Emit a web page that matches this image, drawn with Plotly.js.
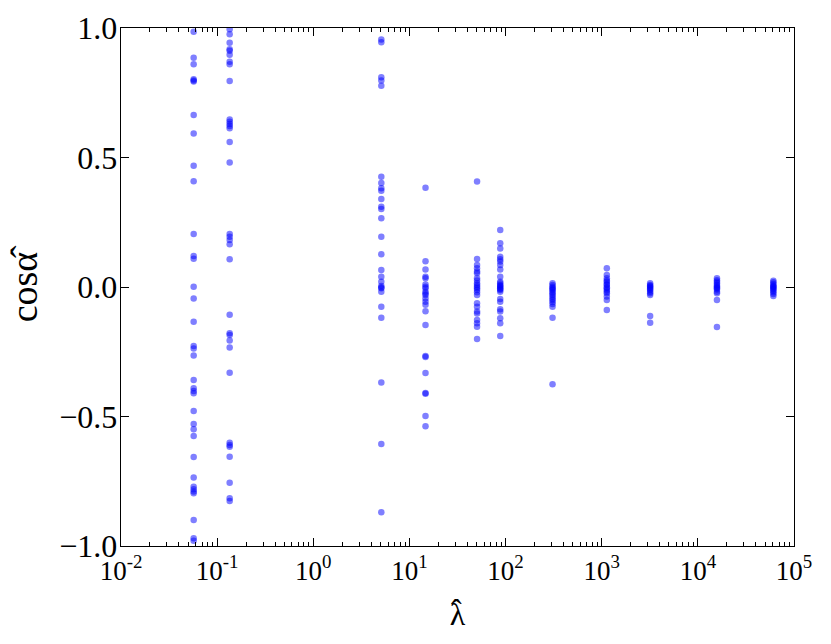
<!DOCTYPE html>
<html>
<head>
<meta charset="utf-8">
<script src="https://cdn.plot.ly/plotly-3.0.1.min.js"></script>
<style>html,body{margin:0;padding:0;background:#fff;}#plot{width:831px;height:644px;}</style>
</head>
<body>
<div id="plot"></div>
<script>
// lambda-hat value for each column of points
const lambdaHat = [0.057, 0.135, 5.1, 14.7, 50.5, 88, 308, 1130, 3190, 15800, 61000];

// cos(alpha-hat) values, one array per column
const c1 = [0.986, 0.885, 0.860, 0.802, 0.797, 0.793, 0.664, 0.593, 0.468, 0.408, 0.205, 0.120, 0.109, 0.001, -0.044, -0.134, -0.228, -0.237, -0.264, -0.359, -0.391, -0.402, -0.410, -0.479, -0.529, -0.549, -0.575, -0.656, -0.736, -0.771, -0.781, -0.790, -0.796, -0.900, -0.970, -0.980];
const c2 = [0.995, 0.976, 0.943, 0.918, 0.912, 0.897, 0.870, 0.860, 0.795, 0.647, 0.638, 0.629, 0.622, 0.613, 0.560, 0.481, 0.205, 0.194, 0.181, 0.165, 0.107, -0.107, -0.179, -0.185, -0.207, -0.234, -0.331, -0.601, -0.610, -0.617, -0.655, -0.756, -0.816, -0.826];
const c3 = [0.956, 0.945, 0.810, 0.797, 0.777, 0.426, 0.402, 0.381, 0.372, 0.340, 0.310, 0.301, 0.265, 0.194, 0.126, 0.066, 0.040, 0.020, 0.004, -0.002, -0.005, -0.018, -0.076, -0.119, -0.369, -0.606, -0.870];
const c4 = [0.383, 0.099, 0.068, 0.040, 0.034, 0.010, 0.001, -0.005, -0.018, -0.025, -0.031, -0.044, -0.057, -0.069, -0.094, -0.147, -0.266, -0.270, -0.332, -0.409, -0.412, -0.498, -0.538];
const c5 = [0.407, 0.108, 0.085, 0.072, 0.060, 0.053, 0.034, 0.025, 0.014, 0.008, 0.001, -0.005, -0.012, -0.020, -0.031, -0.063, -0.076, -0.095, -0.102, -0.127, -0.140, -0.153, -0.201];
const c6 = [0.220, 0.169, 0.149, 0.117, 0.107, 0.098, 0.085, 0.068, 0.040, 0.020, 0.014, 0.008, 0.004, 0.001, -0.005, -0.008, -0.012, -0.018, -0.046, -0.057, -0.086, -0.095, -0.121, -0.140, -0.189];
const c7 = [0.014, 0.008, 0.001, -0.004, -0.008, -0.012, -0.018, -0.024, -0.030, -0.037, -0.044, -0.050, -0.058, -0.066, -0.076, -0.119, -0.375];
const c8 = [0.072, 0.046, 0.034, 0.025, 0.020, 0.012, 0.008, -0.001, -0.005, -0.012, -0.018, -0.024, -0.037, -0.050, -0.089];
const c9 = [0.014, 0.008, 0.004, 0.001, -0.004, -0.008, -0.012, -0.018, -0.024, -0.031, -0.112, -0.138];
const c10 = [0.034, 0.026, 0.020, 0.014, 0.008, 0.003, -0.002, -0.005, -0.010, -0.018, -0.024, -0.050, -0.154];
const c11 = [0.024, 0.018, 0.012, 0.006, 0.002, -0.001, -0.005, -0.010, -0.014, -0.020, -0.027, -0.035];

const xTickVals = [0.01, 0.1, 1, 10, 100, 1000, 10000, 100000];
const xTickText = ['10<sup>-2</sup>', '10<sup>-1</sup>', '10<sup>0</sup>', '10<sup>1</sup>', '10<sup>2</sup>', '10<sup>3</sup>', '10<sup>4</sup>', '10<sup>5</sup>'];
const yTickVals = [-1, -0.5, 0, 0.5, 1];
const yTickText = ['\u22121.0', '\u22120.5', '0.0', '0.5', '1.0'];

const columns = [c1, c2, c3, c4, c5, c6, c7, c8, c9, c10, c11];
const xs = [], ys = [];
columns.forEach((col, i) => { col.forEach(v => { xs.push(lambdaHat[i]); ys.push(v); }); });

// minor tick positions 2..9 in each decade
const minorVals = [];
for (let e = -2; e < 5; e++) { for (let m = 2; m <= 9; m++) minorVals.push(m * Math.pow(10, e)); }

const trace = {
  x: xs, y: ys, type: 'scatter', mode: 'markers',
  marker: {color: 'rgba(0,0,255,0.5)', size: 6.5, line: {width: 0}},
  hoverinfo: 'skip'
};

const FAM = 'Liberation Serif';

const layout = {
  width: 831, height: 644,
  margin: {l: 121, r: 37, t: 28, b: 98},
  paper_bgcolor: '#fff', plot_bgcolor: '#fff',
  showlegend: false,
  font: {family: FAM, size: 30, color: '#000'},
  xaxis: {
    type: 'log', range: [-2, 5],
    tickmode: 'array', tickvals: xTickVals, ticktext: xTickText,
    ticks: 'inside', ticklen: 8, tickwidth: 1, tickcolor: '#000',
    minor: {tickmode: 'array', tickvals: minorVals, ticks: 'inside', ticklen: 4, tickwidth: 1, tickcolor: '#000', showgrid: false},
    showline: true, linecolor: '#000', linewidth: 1.3, mirror: 'allticks',
    showgrid: false, zeroline: false,
    tickfont: {family: FAM, size: 27, color: '#000'},
    title: {text: 'λ', font: {family: FAM, size: 32, color: '#000'}, standoff: 18}
  },
  yaxis: {
    range: [-1, 1],
    tickmode: 'array', tickvals: yTickVals, ticktext: yTickText,
    ticks: 'inside', ticklen: 8, tickwidth: 1, tickcolor: '#000',
    ticklabelstandoff: -4,
    showline: true, linecolor: '#000', linewidth: 1.3, mirror: 'allticks',
    showgrid: false, zeroline: false,
    tickfont: {family: FAM, size: 32, color: '#000'},
    title: {text: 'cosα\u0302', font: {family: FAM, size: 38, color: '#000'}, standoff: 10}
  },
  annotations: [{
    text: '\u02C6', xref: 'paper', yref: 'paper', x: 0.5, y: 0,
    xanchor: 'center', yanchor: 'top', xshift: -1.5, yshift: -44,
    showarrow: false, font: {family: FAM, size: 32, color: '#000'}
  }]
};

Plotly.newPlot('plot', [trace], layout, {staticPlot: true, displayModeBar: false});
</script>
</body>
</html>
